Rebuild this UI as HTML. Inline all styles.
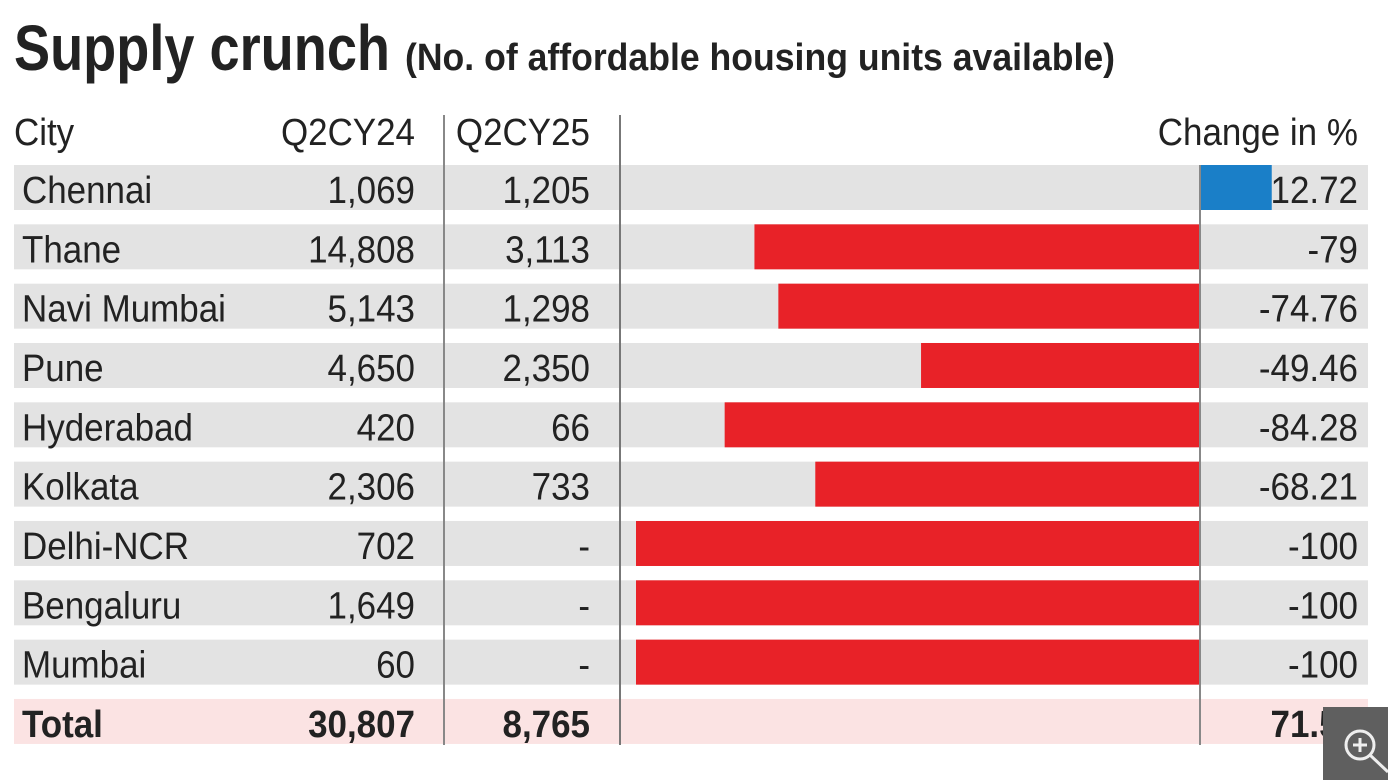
<!DOCTYPE html>
<html><head><meta charset="utf-8"><style>
html,body{margin:0;padding:0;background:#fff;}
svg{display:block;}
text{font-family:"Liberation Sans Narrow","Liberation Sans",sans-serif;fill:#222;}
</style></head><body>
<svg id="chart" width="1388" height="780" viewBox="0 0 1388 780">
<text x="14" y="70" font-size="64" font-weight="bold" textLength="376" lengthAdjust="spacingAndGlyphs">Supply crunch</text>
<text x="405" y="70" font-size="38" font-weight="bold" textLength="710" lengthAdjust="spacingAndGlyphs">(No. of affordable housing units available)</text>
<g transform="scale(0.92,1)">
<text x="15.2" y="145" font-size="38">City</text>
<text x="451.1" y="145" font-size="38" text-anchor="end">Q2CY24</text>
<text x="641.3" y="145" font-size="38" text-anchor="end">Q2CY25</text>
<text x="1476" y="145" font-size="38" text-anchor="end">Change in %</text>
</g>
<g id="rows"></g>
<line x1="444" y1="115" x2="444" y2="745" stroke="#888" stroke-width="2"/>
<line x1="620" y1="115" x2="620" y2="745" stroke="#777" stroke-width="2"/>
<line x1="1200" y1="165" x2="1200" y2="745" stroke="#888" stroke-width="2"/>
<g>
<rect x="1323" y="707" width="65" height="73" fill="#5f5f5f"/>
<circle cx="1360" cy="745" r="14" fill="none" stroke="#eee" stroke-width="3"/>
<line x1="1370" y1="755" x2="1388" y2="772" stroke="#eee" stroke-width="3"/>
<line x1="1353" y1="745" x2="1367" y2="745" stroke="#eee" stroke-width="3"/>
<line x1="1360" y1="738" x2="1360" y2="752" stroke="#eee" stroke-width="3"/>
</g>
</svg>
<script>
const cities = ["Chennai","Thane","Navi Mumbai","Pune","Hyderabad","Kolkata","Delhi-NCR","Bengaluru","Mumbai"];
const q24Labels = ["1,069","14,808","5,143","4,650","420","2,306","702","1,649","60"];
const q25Labels = ["1,205","3,113","1,298","2,350","66","733","-","-","-"];
const changes = [12.72,-79,-74.76,-49.46,-84.28,-68.21,-100,-100,-100];
const changeLabels = ["12.72","-79","-74.76","-49.46","-84.28","-68.21","-100","-100","-100"];
const totalLabels = ["Total","30,807","8,765","71.54"];

const NS = "http://www.w3.org/2000/svg";
const g = document.getElementById("rows");
const SX = 0.92;
const x = v => 1200 + v * 5.64;
const rowY = i => 165 + i * 59.33;
function mk(tag, attrs, txt){
  const e = document.createElementNS(NS, tag);
  for (const k in attrs) e.setAttribute(k, attrs[k]);
  if (txt !== undefined) e.textContent = txt;
  g.appendChild(e);
  return e;
}
function txt(px, py, anchor, s, bold){
  const a = {x:px / SX, y:py, "font-size":38, "text-anchor":anchor, transform:"scale(" + SX + ",1)"};
  if (bold) a["font-weight"] = "bold";
  return mk("text", a, s);
}
cities.forEach((c, i) => {
  const y = rowY(i);
  const band = mk("rect", {x:14, y:y, width:1354, height:45, fill:"#e3e3e3"});
  
  
  const v = changes[i];
  const bar = mk("rect", {x:Math.min(x(0), x(v)), y:y, width:Math.abs(x(v) - x(0)), height:45, fill: v >= 0 ? "#1a7fc8" : "#e82228"});
  
  
  const t1 = txt(22, y+38, "start", c);
  
  
  const t2 = txt(415, y+38, "end", q24Labels[i]);
  
  
  const t3 = txt(590, y+38, "end", q25Labels[i]);
  
  
  const t4 = txt(1358, y+38, "end", changeLabels[i]);
  
  
});
const ty = rowY(cities.length);
const tb = mk("rect", {x:14, y:ty, width:1354, height:45, fill:"#fbe3e3"});


const tx = [[22,"start"],[415,"end"],[590,"end"],[1358,"end"]];
totalLabels.forEach((l, j) => {
  const t = txt(tx[j][0], ty+38, tx[j][1], l, true);
  
  
});
</script>
</body></html>
